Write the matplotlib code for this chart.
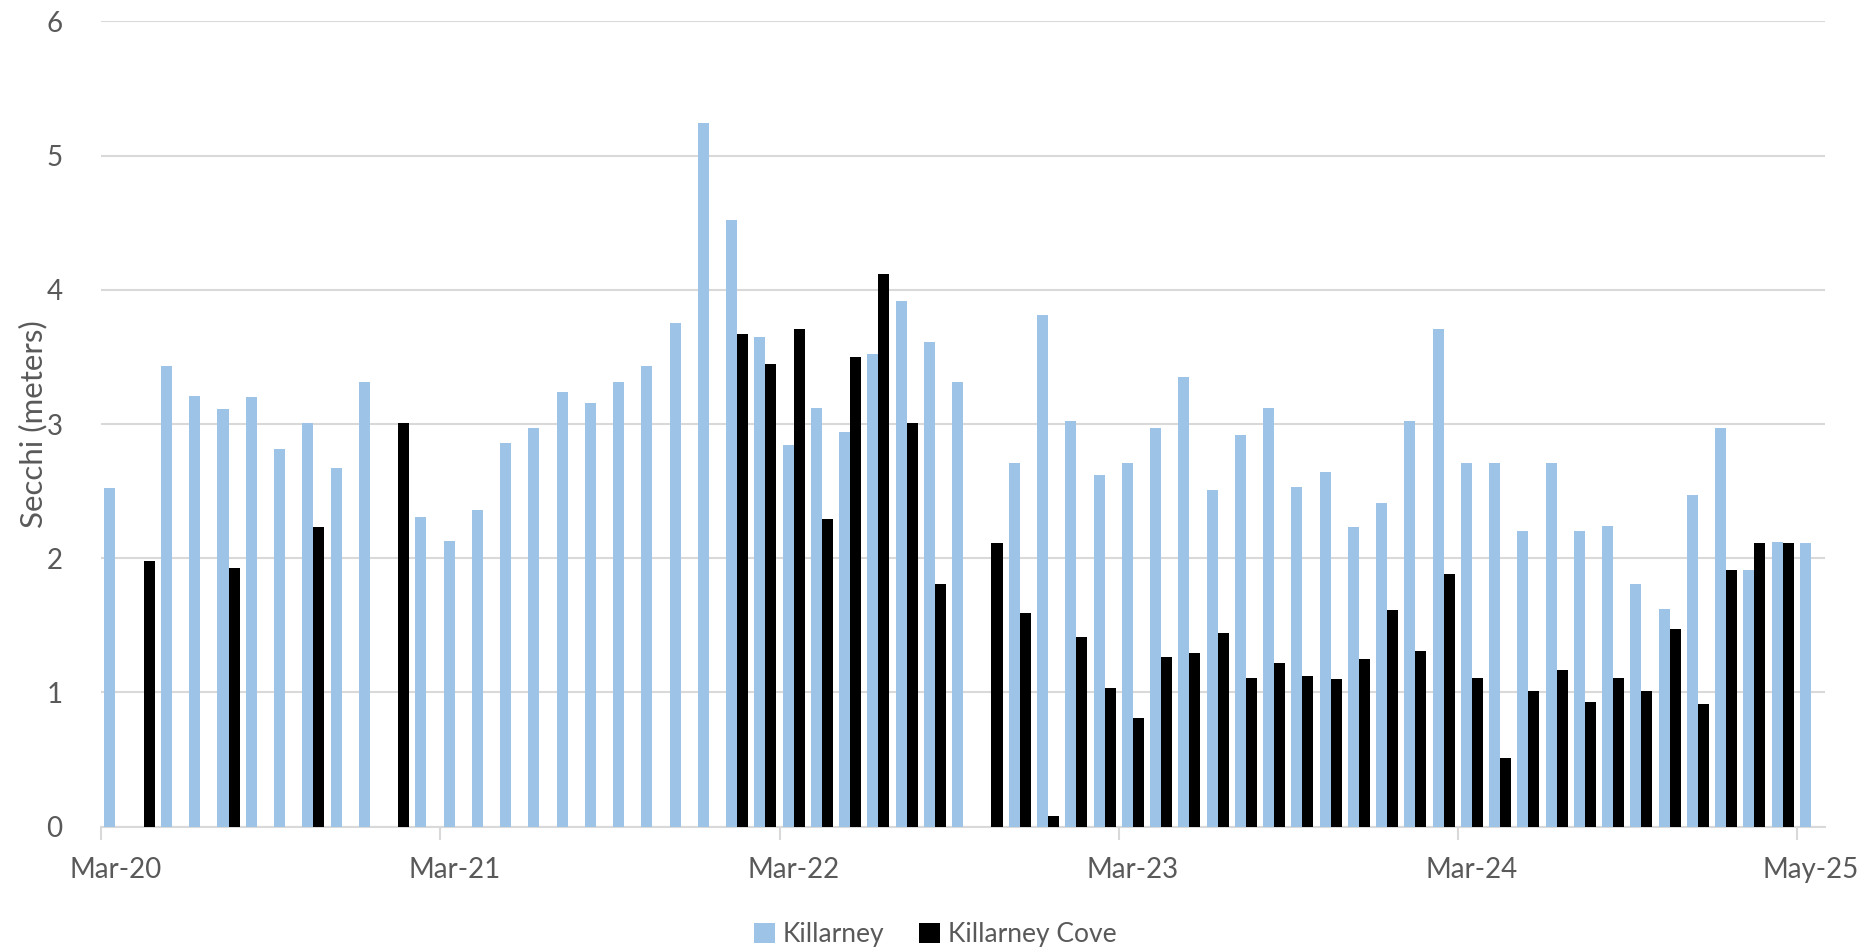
import matplotlib
matplotlib.use("Agg")
import matplotlib.pyplot as plt
import numpy as np

# One category per sampling event (61 in total); only every 12th is labelled
N_CATS = 61
LABEL_POS = [0, 12, 24, 36, 48, 60]
LABELS = ["Mar-20", "Mar-21", "Mar-22", "Mar-23", "Mar-24", "May-25"]

# Secchi depth (m); None = no reading
KILLARNEY = [
    2.52, None, 3.43, 3.21, 3.11, 3.20, 2.81, 3.01, 2.67, 3.31,
    None, 2.31, 2.13, 2.36, 2.86, 2.97, 3.24, 3.16, 3.31, 3.43,
    3.75, 5.24, 4.52, 3.65, 2.84, 3.12, 2.94, 3.52, 3.92, 3.61,
    3.31, None, 2.71, 3.81, 3.02, 2.62, 2.71, 2.97, 3.35, 2.51,
    2.92, 3.12, 2.53, 2.64, 2.23, 2.41, 3.02, 3.71, 2.71, 2.71,
    2.20, 2.71, 2.20, 2.24, 1.81, 1.62, 2.47, 2.97, 1.91, 2.12,
    2.11,
]
KILLARNEY_COVE = [
    None, 1.98, None, None, 1.93, None, None, 2.23, None, None,
    3.01, None, None, None, None, None, None, None, None, None,
    None, None, 3.67, 3.45, 3.71, 2.29, 3.50, 4.12, 3.01, 1.81,
    None, 2.11, 1.59, 0.08, 1.41, 1.03, 0.81, 1.26, 1.29, 1.44,
    1.11, 1.22, 1.12, 1.10, 1.25, 1.61, 1.31, 1.88, 1.11, 0.51,
    1.01, 1.17, 0.93, 1.11, 1.01, 1.47, 0.91, 1.91, 2.11, 2.11,
    None,
]

BLUE = "#9DC3E6"
TEXT = "#595959"
GRID = "#D9D9D9"

plt.rcParams["font.family"] = ["Lato", "DejaVu Sans"]

fig = plt.figure(figsize=(18.70, 9.51), dpi=100)
ax = fig.add_axes([0.0542, 0.1309, 0.9218, 0.8465])

x = np.arange(N_CATS) + 0.5
w = 0.39
k_vals = np.array([np.nan if v is None else v for v in KILLARNEY])
c_vals = np.array([np.nan if v is None else v for v in KILLARNEY_COVE])
ax.bar(x - w / 2, k_vals, width=w, color=BLUE, label="Killarney", zorder=3)
ax.bar(x + w / 2, c_vals, width=w, color="black", label="Killarney Cove", zorder=3)

ax.set_xlim(0, N_CATS)
ax.set_ylim(0, 6)
ax.set_yticks(range(0, 7))
ax.grid(axis="y", color=GRID, linewidth=1.5, zorder=0)

# tick marks on category boundaries, labels centred in the category
ax.set_xticks(LABEL_POS)
ax.set_xticklabels([])
ax.set_xticks([p + 0.5 for p in LABEL_POS], minor=True)
ax.set_xticklabels(LABELS, minor=True)
ax.tick_params(axis="x", which="major", length=9, width=1.5, color=GRID, direction="out")
ax.tick_params(axis="x", which="minor", length=0, pad=22, labelsize=20, labelcolor=TEXT)
ax.tick_params(axis="y", length=0, pad=28, labelsize=20, labelcolor=TEXT)

for side in ("top", "right", "left"):
    ax.spines[side].set_visible(False)
ax.spines["bottom"].set_color(GRID)
ax.spines["bottom"].set_linewidth(1.5)

ax.set_ylabel("Secchi (meters)", fontsize=22.5, color=TEXT)
ax.yaxis.set_label_coords(-0.031, 0.5)

fig.legend(loc="center", bbox_to_anchor=(0.5, 0.017), ncol=2, frameon=False,
           fontsize=19, labelcolor=TEXT, handlelength=0.8, handleheight=0.8,
           handletextpad=0.3, columnspacing=1.3)

fig.savefig("out.png", dpi=100)
